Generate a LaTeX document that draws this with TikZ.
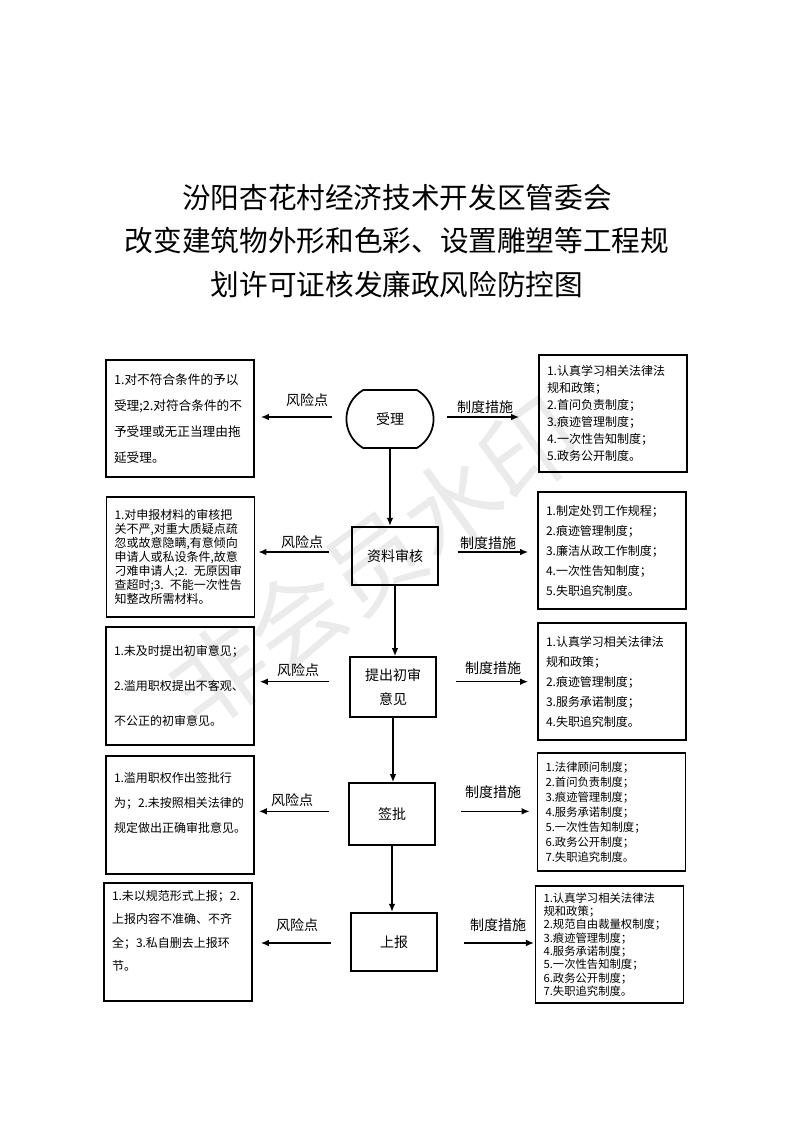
\documentclass[tikz,border=0pt]{standalone}
\usepackage{fontspec}
\setmainfont{Noto Sans CJK SC}
\usetikzlibrary{arrows.meta,shapes.misc}
\newcommand{\boxfont}[2]{\fontsize{#1}{#2}\selectfont}

\tikzset{
  stagebox/.style={draw,line width=1.3pt,minimum width=64.5pt,minimum height=44pt,align=center,font=\boxfont{10.5}{18}},
  riskbox/.style={draw,line width=1.3pt,minimum height=88pt,text width=99pt,inner xsep=6pt,align=left},
  flowline/.style={line width=1.1pt,-{Latex[length=6pt,width=5pt]}},
  tag/.style={font=\boxfont{10.5}{12}}
}

\begin{document}
\begin{tikzpicture}[x=0.75pt,y=-0.75pt]
\useasboundingbox (0,0) rectangle (793,1122);
% watermark
\node[rotate=36,text=black!8,font=\boxfont{72}{72}] (wm) at (374,562) {非会员水印};
% title
\node[align=center,font=\boxfont{21.5}{32.6}] (title) at (397,241) {汾阳杏花村经济技术开发区管委会\\改变建筑物外形和色彩、设置雕塑等工程规\\划许可证核发廉政风险防控图};
% stages
\node[stagebox,rounded rectangle,rounded rectangle arc length=120,minimum width=72pt,minimum height=43.5pt] (n1) at (390,419) {受理};
\node[stagebox] (n2) at (395,556) {资料审核};
\node[stagebox,minimum height=45pt] (n3) at (393,687) {提出初审\\意见};
\node[stagebox,minimum height=46.5pt] (n4) at (392,814) {签批};
\node[stagebox] (n5) at (394,942) {上报};
% risk points
\node[riskbox,font=\boxfont{9.5}{19.5}] (l1) at (180,418.5) {1.对不符合条件的予以\\受理;2.对符合条件的不\\予受理或无正当理由拖\\延受理。};
\node[riskbox,minimum height=90pt,font=\boxfont{9}{10.5}] (l2) at (180.5,557) {1.对申报材料的审核把\\关不严,对重大质疑点疏\\忽或故意隐瞒,有意倾向\\申请人或私设条件,故意\\刁难申请人;2. 无原因审\\查超时;3. 不能一次性告\\知整改所需材料。};
\node[riskbox,font=\boxfont{9}{26}] (l3) at (180,686) {1.未及时提出初审意见；\\2.滥用职权提出不客观、\\不公正的初审意见。};
\node[riskbox,font=\boxfont{9}{18.75}] (l4) at (180,815) {1.滥用职权作出签批行\\为；2.未按照相关法律的\\规定做出正确审批意见。\\\mbox{}};
\node[riskbox,font=\boxfont{9}{17.5}] (l5) at (178,942) {1.未以规范形式上报；2.\\上报内容不准确、不齐\\全；3.私自删去上报环\\节。\\\mbox{}};
% measures
\node[riskbox,font=\boxfont{9}{12.75}] (r1) at (613,413.5) {1.认真学习相关法律法\\规和政策；\\2.首问负责制度；\\3.痕迹管理制度；\\4.一次性告知制度；\\5.政务公开制度。};
\node[riskbox,font=\boxfont{9}{15}] (r2) at (612,550.5) {1.制定处罚工作规程；\\2.痕迹管理制度；\\3.廉洁从政工作制度；\\4.一次性告知制度；\\5.失职追究制度。};
\node[riskbox,font=\boxfont{9}{15}] (r3) at (612,681.5) {1.认真学习相关法律法\\规和政策；\\2.痕迹管理制度；\\3.服务承诺制度；\\4.失职追究制度。};
\node[riskbox,font=\boxfont{8.5}{11.25}] (r4) at (611.5,812) {1.法律顾问制度；\\2.首问负责制度；\\3.痕迹管理制度；\\4.服务承诺制度；\\5.一次性告知制度；\\6.政务公开制度；\\7.失职追究制度。};
\node[riskbox,font=\boxfont{8.5}{10}] (r5) at (609.5,944.5) {1.认真学习相关法律法\\规和政策；\\2.规范自由裁量权制度；\\3.痕迹管理制度；\\4.服务承诺制度；\\5.一次性告知制度；\\6.政务公开制度；\\7.失职追究制度。};
% flow
\foreach \a/\b in {n1/n2,n2/n3,n3/n4,n4/n5}
  \draw[flowline] (\a.south) -- (\a.south |- \b.north);
\foreach \i/\dy/\ra/\rb/\ma/\mb in {1/1.5pt/10.5pt/4.5pt/9.75pt/14.25pt,2/3pt/16.5pt/2.25pt/14.25pt/6.75pt,3/4pt/15pt/3.75pt/14.25pt/6.75pt,4/2pt/14.25pt/3pt/18.75pt/5.25pt,5/-0.75pt/14.25pt/6pt/19.5pt/0.5pt}{
  \draw[flowline,shorten <=\ra,shorten >=\rb] ([yshift=\dy]n\i.west) -- ([yshift=\dy]n\i.west -| l\i.east);
  \draw[flowline,shorten <=\ma,shorten >=\mb] ([yshift=\dy]n\i.east) -- ([yshift=\dy]n\i.east -| r\i.west);
}
% labels
\foreach \i/\x/\y in {1/307/400,2/302/542,3/298/670,4/292/800,5/297/925}
  \node[tag] (rk\i) at (\x,\y) {风险点};
\foreach \i/\x/\y in {1/485/407,2/488/543,3/493/668,4/493/792,5/498/925}
  \node[tag] (ms\i) at (\x,\y) {制度措施};
\end{tikzpicture}
\end{document}
